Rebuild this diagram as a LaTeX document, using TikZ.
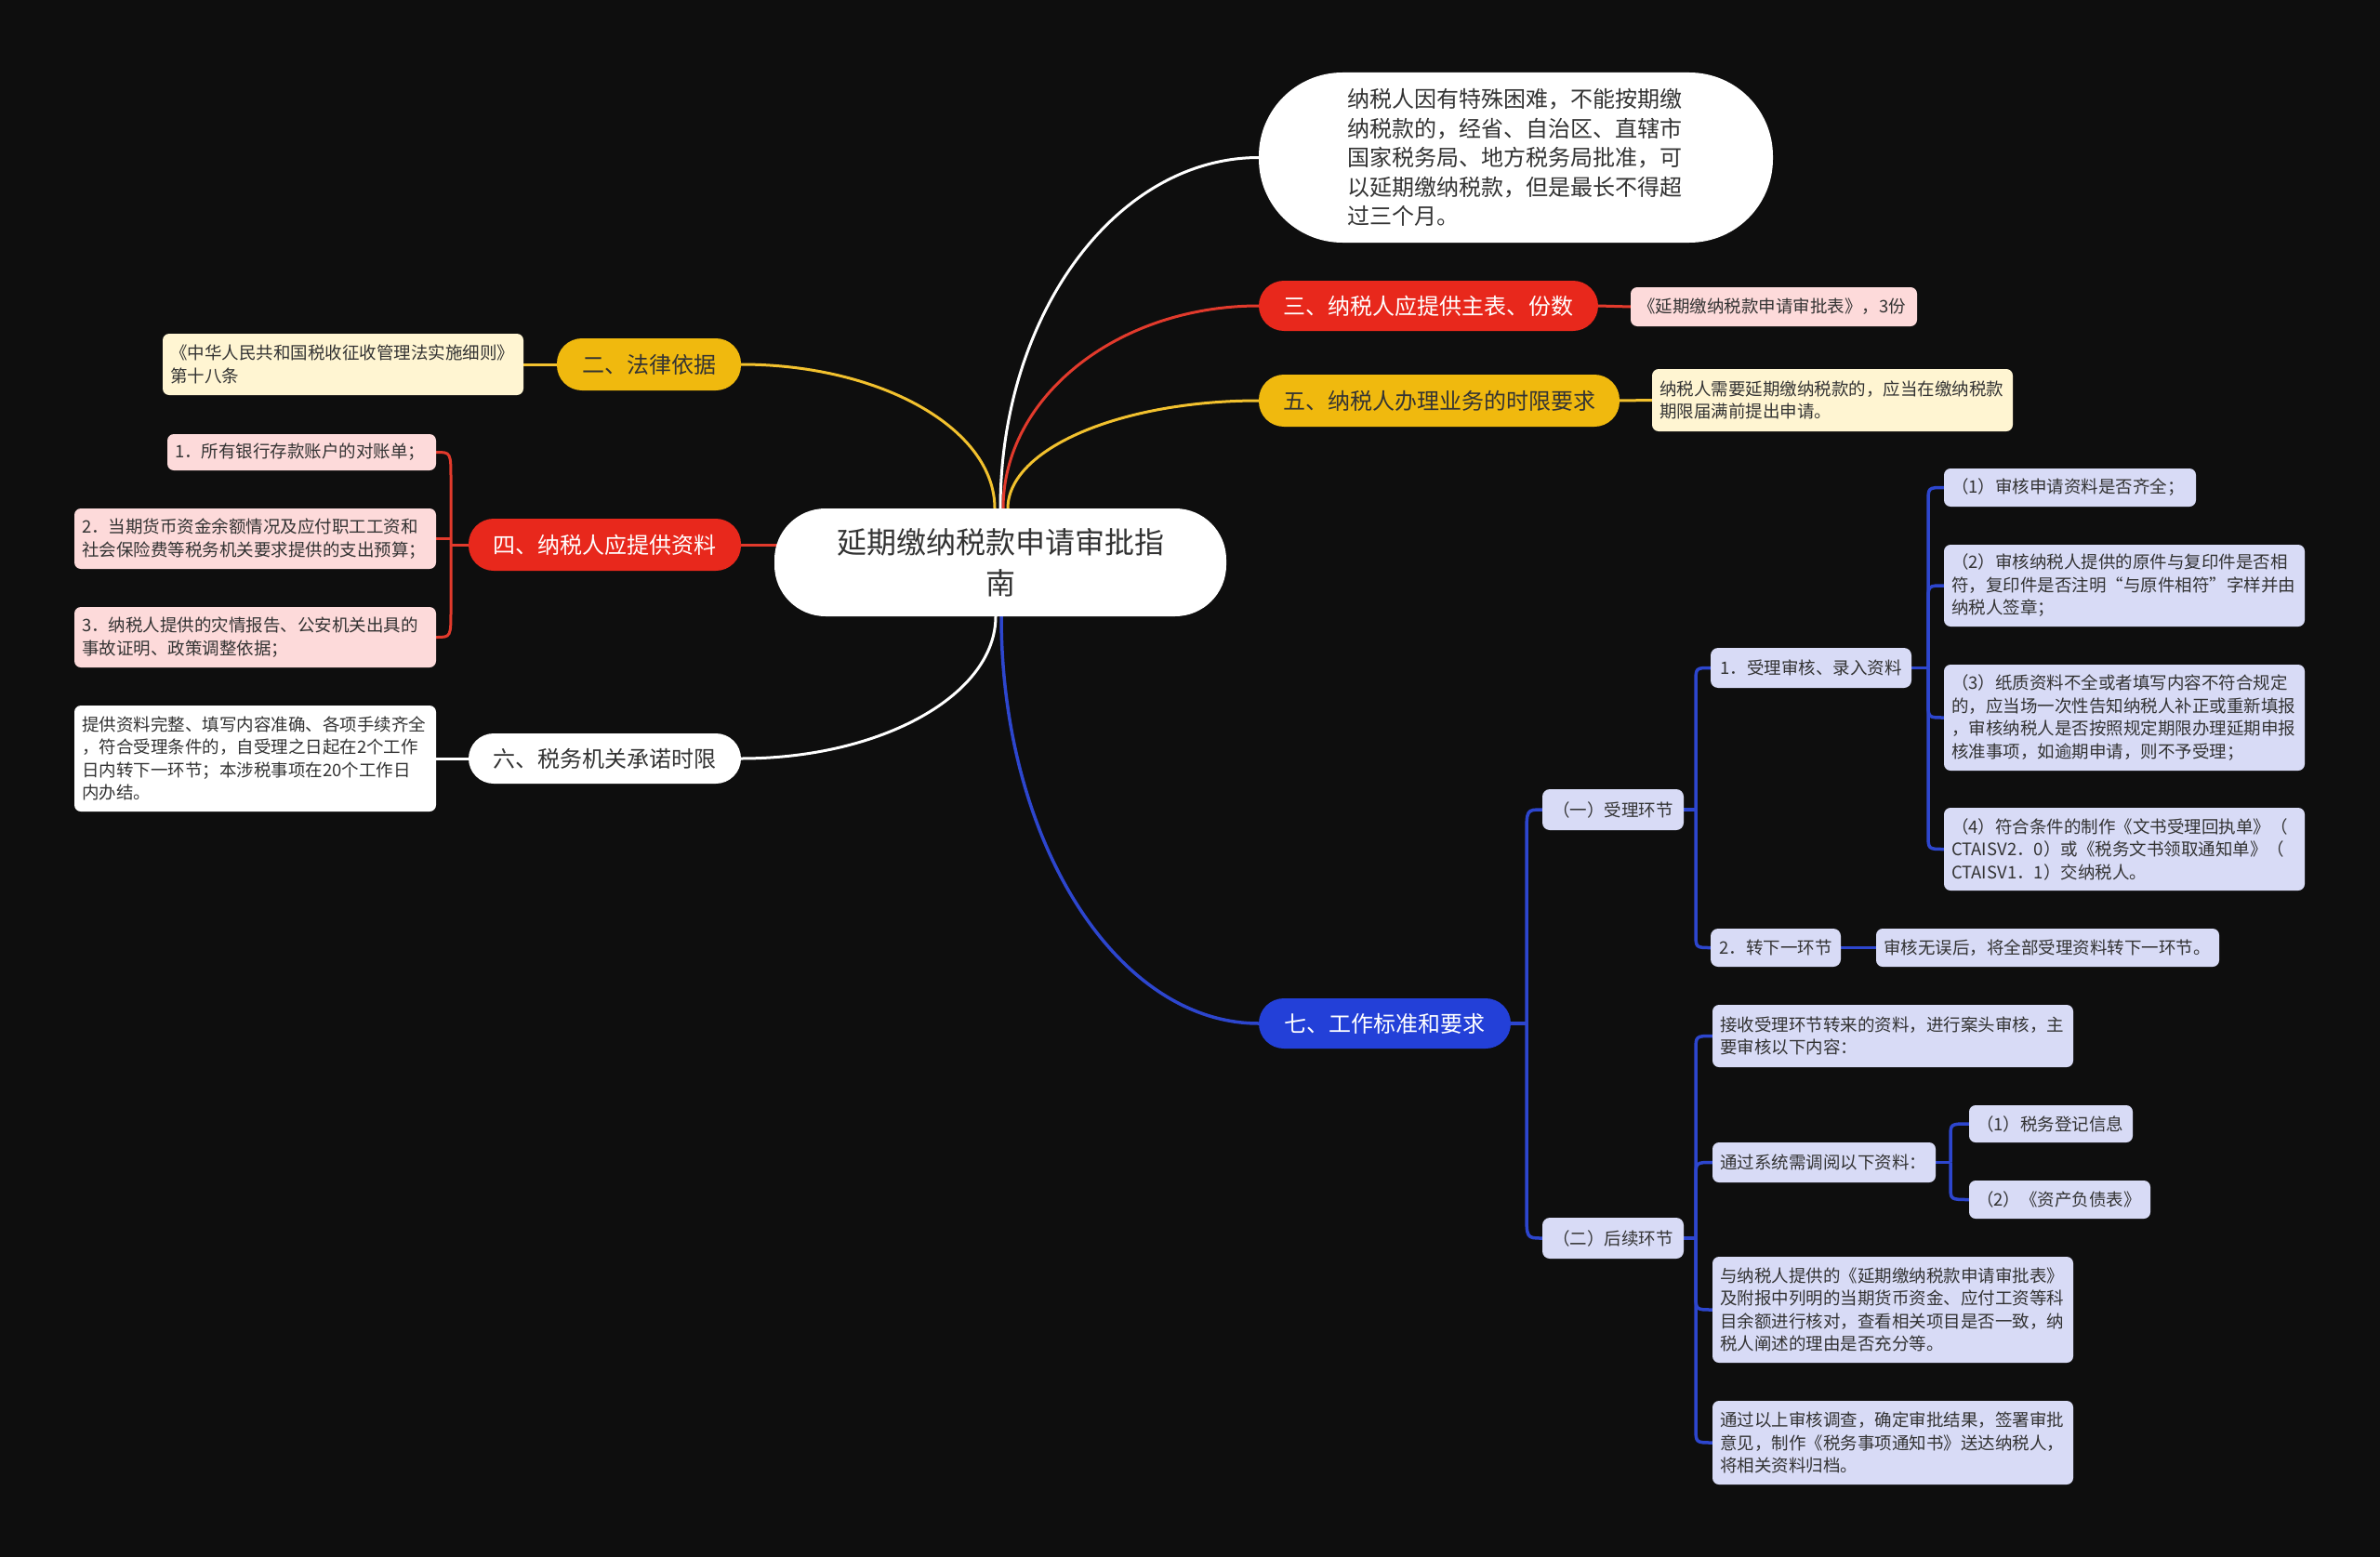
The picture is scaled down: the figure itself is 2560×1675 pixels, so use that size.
\documentclass[tikz,border=0pt]{standalone}
\usepackage{fontspec}
\setmainfont{Noto Sans CJK SC}
\usetikzlibrary{calc}
\definecolor{bgc}{HTML}{0E0E0E}
\definecolor{cred}{HTML}{E8281C}
\definecolor{cyel}{HTML}{F0B90E}
\definecolor{cblue}{HTML}{2340D8}
\definecolor{lpink}{HTML}{FDDADA}
\definecolor{lcream}{HTML}{FFF5D2}
\definecolor{llav}{HTML}{D8DBF6}
\definecolor{txt}{HTML}{333333}
\definecolor{kred}{HTML}{E23A2C}
\definecolor{kyel}{HTML}{F2C12E}
\definecolor{kblue}{HTML}{2D46CE}
\pgfdeclarelayer{backdrop}
\pgfdeclarelayer{edges}
\pgfsetlayers{backdrop,edges,main}
\newcommand\mmcurve[3]{\draw[#1] (#2) .. controls ($(#2)!0.552!(#2 |- #3)$) and ($(#3)!0.552!(#2 |- #3)$) .. (#3);}
\newcommand\mmbr[4]{\draw[#1] (#2) -- ($(#2 |- #3)!#4!(#2)$) .. controls (#2 |- #3) .. (#3);}
\begin{document}
\begin{tikzpicture}[x=1pt,y=-1pt,
  every node/.style={inner sep=0pt, outer sep=0pt, text=txt},
  fbig/.style={font=\fontsize{24}{31.5}\selectfont},
  fsmall/.style={font=\fontsize{18.5}{24.5}\selectfont},
  pill/.style={fbig, rounded corners=27pt, align=center, minimum height=55pt},
  leafbox/.style={fsmall, rounded corners=7pt, align=left, inner xsep=8pt},
  subbox/.style={fsmall, rounded corners=8pt, align=center, fill=llav},
  ewhite/.style={draw=white, line width=3pt},
  eredl/.style={draw=kred, line width=3pt},
  eyell/.style={draw=kyel, line width=3pt},
  ebluel/.style={draw=kblue, line width=3.5pt},
]
\useasboundingbox (0,0) rectangle (2560,1675);
\begin{pgfonlayer}{backdrop}
\fill[bgc] (0,0) rectangle (2560,1675);
\end{pgfonlayer}

% central
\node[fill=white, rounded corners=55pt, minimum width=486pt, minimum height=116pt, align=center,
  font=\fontsize{32}{44}\selectfont] (C) at (1076,605) {延期缴纳税款申请审批指\\南};

% top white
\node[fill=white, rounded corners=90pt, minimum width=553pt, minimum height=183pt, fbig,
  text width=362pt, align=left] (T) at (1630.5,169.5)
  {纳税人因有特殊困难，不能按期缴\\纳税款的，经省、自治区、直辖市\\国家税务局、地方税务局批准，可\\以延期缴纳税款，但是最长不得超\\过三个月。};

% branch three
\node[pill, fill=cred, text=white, minimum width=365pt, minimum height=54pt] (b3) at (1536.5,329) {三、纳税人应提供主表、份数};
\node[leafbox, fill=lpink, text width=292pt, minimum height=42pt] (l3) at (1908,330) {《延期缴纳税款申请审批表》，3份};

% branch five
\node[pill, fill=cyel, minimum width=388pt, minimum height=56pt] (b5) at (1548,431) {五、纳税人办理业务的时限要求};
\node[leafbox, fill=lcream, text width=372pt, minimum height=67pt] (l5) at (1971,430.5) {纳税人需要延期缴纳税款的，应当在缴纳税款\\期限届满前提出申请。};

% branch two
\node[pill, fill=cyel, minimum width=198pt, minimum height=56pt] (b2) at (698,392) {二、法律依据};
\node[leafbox, fill=lcream, text width=372pt, minimum height=66pt] (l2) at (369,392) {《中华人民共和国税收征收管理法实施细则》\\第十八条};

% branch four
\node[pill, fill=cred, text=white, minimum width=293pt, minimum height=56pt] (b4) at (650.5,586) {四、纳税人应提供资料};
\node[leafbox, fill=lpink, text width=273pt, minimum height=39pt] (l4a) at (324.5,486.5) {1．所有银行存款账户的对账单；};
\node[leafbox, fill=lpink, text width=373pt, minimum height=65pt] (l4b) at (274.5,579.5) {2．当期货币资金余额情况及应付职工工资和\\社会保险费等税务机关要求提供的支出预算；};
\node[leafbox, fill=lpink, text width=373pt, minimum height=65pt] (l4c) at (274.5,685.5) {3．纳税人提供的灾情报告、公安机关出具的\\事故证明、政策调整依据；};

% branch six
\node[pill, fill=white, minimum width=293pt, minimum height=54pt] (b6) at (650.5,816) {六、税务机关承诺时限};
\node[leafbox, fill=white, text width=373pt, minimum height=114pt] (l6) at (274.5,816) {提供资料完整、填写内容准确、各项手续齐全\\，符合受理条件的，自受理之日起在2个工作\\日内转下一环节；本涉税事项在20个工作日\\内办结。};

% branch seven
\node[pill, fill=cblue, text=white, minimum width=271pt, minimum height=54pt] (b7) at (1489.5,1101) {七、工作标准和要求};

\node[subbox, minimum width=152pt, minimum height=44pt] (s1) at (1735,871) {（一）受理环节};
\node[subbox, minimum width=216pt, minimum height=43pt] (s1a) at (1948,718.5) {1．受理审核、录入资料};
\node[leafbox, fill=llav, text width=255pt, minimum height=41pt] (s1a1) at (2226.5,524.5) {（1）审核申请资料是否齐全；};
\node[leafbox, fill=llav, text width=372pt, minimum height=88pt] (s1a2) at (2285,630) {（2）审核纳税人提供的原件与复印件是否相\\符，复印件是否注明“与原件相符”字样并由\\纳税人签章；};
\node[leafbox, fill=llav, text width=372pt, minimum height=114pt] (s1a3) at (2285,772) {（3）纸质资料不全或者填写内容不符合规定\\的，应当场一次性告知纳税人补正或重新填报\\，审核纳税人是否按照规定期限办理延期申报\\核准事项，如逾期申请，则不予受理；};
\node[leafbox, fill=llav, text width=372pt, minimum height=89pt] (s1a4) at (2285,913.5) {（4）符合条件的制作《文书受理回执单》（\\CTAISV2．0）或《税务文书领取通知单》（\\CTAISV1．1）交纳税人。};
\node[subbox, minimum width=140pt, minimum height=41pt] (s1b) at (1910,1019.5) {2．转下一环节};
\node[leafbox, fill=llav, text width=353pt, minimum height=41pt] (s1b1) at (2202.5,1019.5) {审核无误后，将全部受理资料转下一环节。};

\node[subbox, minimum width=152pt, minimum height=44pt] (s2) at (1735,1332) {（二）后续环节};
\node[leafbox, fill=llav, text width=372pt, minimum height=67pt] (s2a) at (2036,1114.5) {接收受理环节转来的资料，进行案头审核，主\\要审核以下内容：};
\node[leafbox, fill=llav, text width=224pt, minimum height=43pt] (s2b) at (1962,1250.5) {通过系统需调阅以下资料：};
\node[leafbox, fill=llav, text width=160pt, minimum height=40pt] (s2b1) at (2206,1209) {（1）税务登记信息};
\node[leafbox, fill=llav, text width=179pt, minimum height=41pt] (s2b2) at (2215.5,1290.5) {（2）《资产负债表》};
\node[leafbox, fill=llav, text width=372pt, minimum height=114pt] (s2c) at (2036,1409) {与纳税人提供的《延期缴纳税款申请审批表》\\及附报中列明的当期货币资金、应付工资等科\\目余额进行核对，查看相关项目是否一致，纳\\税人阐述的理由是否充分等。};
\node[leafbox, fill=llav, text width=372pt, minimum height=90pt] (s2d) at (2036,1552) {通过以上审核调查，确定审批结果，签署审批\\意见，制作《税务事项通知书》送达纳税人，\\将相关资料归档。};

% connectors
\begin{pgfonlayer}{edges}
\coordinate (cnw) at ($(C.north)+(-6,0)$);
\coordinate (cn0) at ($(C.north)+(0,0)$);
\coordinate (cn3) at ($(C.north)+(3,0)$);
\coordinate (cn5) at ($(C.north)+(8,0)$);
\coordinate (csw) at ($(C.south)+(-5,0)$);
\coordinate (csb) at ($(C.south)+(1,0)$);
\mmcurve{ewhite}{cn0}{T.west}
\mmcurve{eredl}{cn3}{b3.west}
\mmcurve{eyell}{cn5}{b5.west}
\mmcurve{eyell}{cnw}{b2.east}
\mmcurve{ewhite}{csw}{b6.east}
\mmcurve{ebluel}{csb}{b7.west}
\draw[eredl] (b4.east) -- ($(b4.east -| C.west)+(25,0)$);
% leaves
\draw[eredl] (b3.east) -- (l3.west);
\draw[eyell] (b5.east) -- (l5.west);
\draw[eyell] (b2.west) -- (l2.east);
\draw[ewhite] (b6.west) -- (l6.east);
% four bracket
\coordinate (j4) at ($(b4.west)+(-19,0)$);
\draw[eredl] (b4.west) -- (j4);
\mmbr{eredl}{j4}{l4a.east}{30pt}
\mmbr{eredl}{j4}{l4c.east}{30pt}
\draw[eredl] (j4 |- l4b.east) -- (l4b.east);
% seven
\coordinate (j7) at ($(b7.east)+(17,0)$);
\draw[ebluel] (b7.east) -- (j7);
\mmbr{ebluel}{j7}{s1.west}{28pt}
\mmbr{ebluel}{j7}{s2.west}{28pt}
\coordinate (js1) at ($(s1.east)+(13,0)$);
\draw[ebluel] (s1.east) -- (js1);
\mmbr{ebluel}{js1}{s1a.west}{16pt}
\mmbr{ebluel}{js1}{s1b.west}{16pt}
\coordinate (js1a) at ($(s1a.east)+(18,0)$);
\draw[ebluel] (s1a.east) -- (js1a);
\mmbr{ebluel}{js1a}{s1a1.west}{16pt}
\mmbr{ebluel}{js1a}{s1a2.west}{16pt}
\mmbr{ebluel}{js1a}{s1a3.west}{16pt}
\mmbr{ebluel}{js1a}{s1a4.west}{16pt}
\draw[ebluel] (s1b.east) -- (s1b1.west);
\coordinate (js2) at ($(s2.east)+(13,0)$);
\draw[ebluel] (s2.east) -- (js2);
\mmbr{ebluel}{js2}{s2a.west}{16pt}
\mmbr{ebluel}{js2}{s2b.west}{16pt}
\mmbr{ebluel}{js2}{s2c.west}{16pt}
\mmbr{ebluel}{js2}{s2d.west}{16pt}
\coordinate (js2b) at ($(s2b.east)+(16,0)$);
\draw[ebluel] (s2b.east) -- (js2b);
\mmbr{ebluel}{js2b}{s2b1.west}{14pt}
\mmbr{ebluel}{js2b}{s2b2.west}{14pt}
\end{pgfonlayer}
\end{tikzpicture}
\end{document}
